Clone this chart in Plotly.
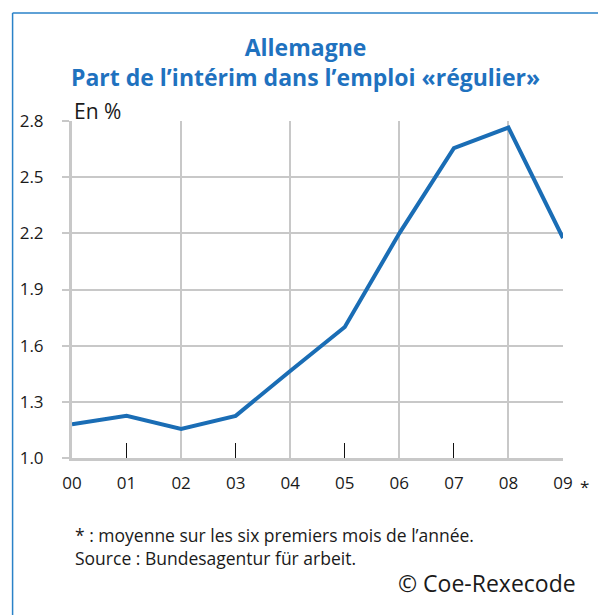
import plotly.graph_objects as go

years = ["00", "01", "02", "03", "04", "05", "06", "07", "08", "09"]
share = [1.18, 1.225, 1.155, 1.225, 1.465, 1.70, 2.20, 2.655, 2.765, 2.175]
y_ticks = [1.0, 1.3, 1.6, 1.9, 2.2, 2.5, 2.8]
grid_years = ["02", "04", "06", "08", "09"]
tick_years = ["01", "03", "05", "07"]
title_lines = ["Allemagne", "Part de l’intérim dans l’emploi «régulier»"]
footnotes = [
    "* : moyenne sur les six premiers mois de l’année.",
    "Source : Bundesagentur für arbeit.",
]

BLUE = "#1a6db5"
TITLE_BLUE = "#1f72bf"
GRID = "#c8c8c8"
FONT = "Open Sans, Noto Sans, sans-serif"

pos = {y: i for i, y in enumerate(years)}

fig = go.Figure()
fig.add_trace(go.Scatter(
    x=[pos[y] for y in years], y=share, mode="lines",
    line=dict(color=BLUE, width=4), showlegend=False, hoverinfo="skip",
))

fig.update_layout(
    width=606, height=615,
    margin=dict(l=59, r=51, t=113, b=165),
    paper_bgcolor="white", plot_bgcolor="white",
    font=dict(family=FONT, color="#1a1a1a", size=16),
    showlegend=False,
    xaxis=dict(
        range=[0, 9], tickvals=list(range(len(years))), ticktext=years,
        ticks="", showgrid=False, zeroline=False,
        showline=True, linecolor=GRID, linewidth=3,
        tickfont=dict(size=17), ticklabelstandoff=8,
    ),
    xaxis2=dict(
        overlaying="x", range=[0, 9], tickvals=[pos[y] for y in grid_years],
        showticklabels=False, ticks="", showgrid=True, gridcolor=GRID, gridwidth=1.5,
        zeroline=False, showline=False,
    ),
    xaxis3=dict(
        overlaying="x", range=[0, 9], tickvals=[pos[y] for y in tick_years],
        showticklabels=False, ticks="inside", ticklen=15, tickwidth=1.2, tickcolor="#111111",
        showgrid=False, zeroline=False, showline=False,
    ),
    yaxis=dict(
        range=[1.0, 2.8], tickvals=y_ticks, ticktext=[f"{v:.1f}" for v in y_ticks],
        showgrid=True, gridcolor=GRID, gridwidth=1.5, zeroline=False,
        ticks="outside", ticklen=7, tickcolor=GRID, tickwidth=1.5,
        showline=True, linecolor=GRID, linewidth=3,
        tickfont=dict(size=17), ticklabelstandoff=15,
    ),
)

# invisible traces to activate the overlay axes
fig.add_trace(go.Scatter(x=[0], y=[1.0], xaxis="x2", mode="markers", marker=dict(opacity=0), hoverinfo="skip"))
fig.add_trace(go.Scatter(x=[0], y=[1.0], xaxis="x3", mode="markers", marker=dict(opacity=0), hoverinfo="skip"))

# frame
fig.add_shape(type="line", xref="paper", yref="paper", x0=-0.121, x1=1.12, y0=1.3205, y1=1.3205,
              line=dict(color="#2a82c8", width=1.5))
fig.add_shape(type="line", xref="paper", yref="paper", x0=-0.121, x1=-0.121, y0=1.3205, y1=-0.5,
              line=dict(color="#2a82c8", width=1.5))

fig.add_annotation(
    text="<b>" + "<br>".join(title_lines) + "</b>",
    xref="paper", yref="paper", x=0.475, y=1.175, xanchor="center", yanchor="middle", align="center",
    showarrow=False, font=dict(size=23, color=TITLE_BLUE, family=FONT),
)
fig.add_annotation(
    text="En %", xref="paper", yref="paper", x=0.0, y=1.031, xanchor="left", yanchor="middle",
    showarrow=False, font=dict(size=21, color="#1a1a1a"),
)
fig.add_annotation(
    text="*", xref="x", yref="paper", x=9, y=-0.086, xanchor="center", yanchor="middle", xshift=21,
    showarrow=False, font=dict(size=17, color="#1a1a1a"),
)
fig.add_annotation(
    text="<br>".join(footnotes), xref="paper", yref="paper", x=0.002, y=-0.264,
    xanchor="left", yanchor="middle", align="left",
    showarrow=False, font=dict(size=17.5, color="#1a1a1a"),
)
fig.add_annotation(
    text="© Coe-Rexecode", xref="paper", yref="paper", x=1.03, y=-0.371, xanchor="right", yanchor="middle",
    showarrow=False, font=dict(size=23, color="#1a1a1a"),
)

fig.write_html("out.html")
